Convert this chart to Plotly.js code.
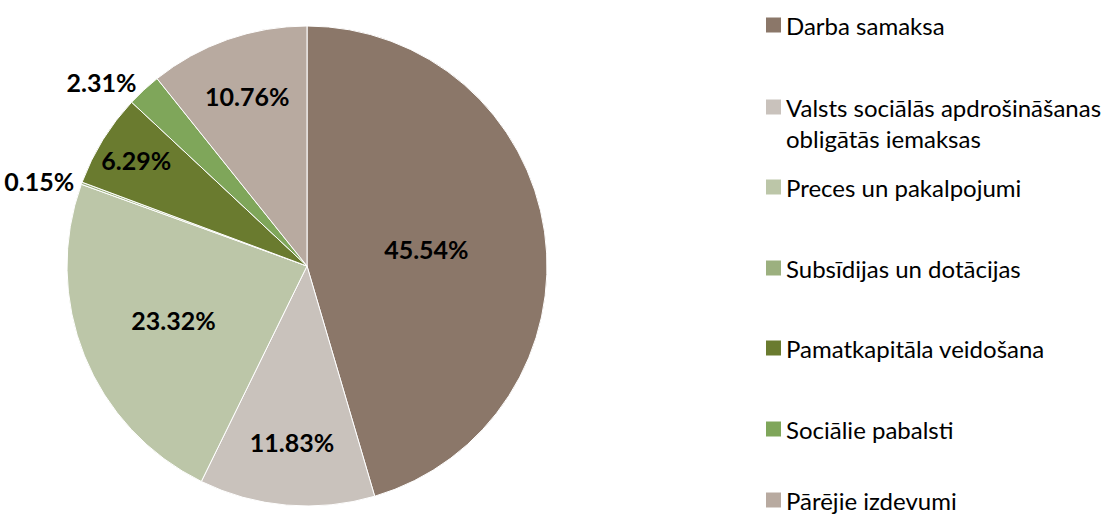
<!DOCTYPE html>
<html><head><meta charset="utf-8">
<script src="https://cdn.plot.ly/plotly-3.0.1.min.js"></script>
<style>body{margin:0;background:#fff}#c{width:1115px;height:518px}</style>
</head><body><div id="c"></div>
<script>
const labels = ["Darba samaksa","Valsts sociālās apdrošināšanas<br>obligātās iemaksas","Preces un pakalpojumi","Subsīdijas un dotācijas","Pamatkapitāla veidošana","Sociālie pabalsti","Pārējie izdevumi"];
const values = [45.54, 11.83, 23.32, 0.15, 6.29, 2.31, 10.76];
const colors = ["#8B7769","#C9C2BC","#BCC6A8","#9CB07F","#6A7B2F","#7FA65A","#B8AAA0"];
const textPos = ["inside","inside","inside","outside","inside","outside","inside"];
const legendY = [25, 107, 187, 268, 348, 429, 500];

const font = "Lato, Open Sans, sans-serif";
const trace = {
  type: "pie", labels: labels, values: values, sort: false, direction: "clockwise", rotation: 0,
  marker: {colors: colors, line: {color: "#ffffff", width: 1}},
  text: values.map(v => v.toFixed(2) + "%"), textinfo: "text", textposition: textPos,
  insidetextorientation: "horizontal",
  textfont: {family: font, size: 25, color: "#000", weight: "bold"},
  outsidetextfont: {family: font, size: 25, color: "#000", weight: "bold"},
  domain: {x: [67/1115, 547/1115], y: [12/518, 492/518]},
  hoverinfo: "label+percent", automargin: false
};
const shapes = [], annotations = [];
labels.forEach((l, i) => {
  const yc = 1 - legendY[i] / 518;
  shapes.push({type: "rect", xref: "paper", yref: "paper", x0: 766/1115, x1: 781/1115,
    y0: yc - 7.5/518, y1: yc + 7.5/518, fillcolor: colors[i], line: {width: 0}});
  l.split("<br>").forEach((line, j) => {
    annotations.push({xref: "paper", yref: "paper", x: 784/1115, y: 1 - (legendY[i] + 31*j) / 518,
      xanchor: "left", yanchor: "middle", align: "left", showarrow: false, text: line,
      font: {family: font, size: 24, color: "#000"}});
  });
});
Plotly.newPlot("c", [trace], {
  width: 1115, height: 518, margin: {l: 0, r: 0, t: 0, b: 0}, showlegend: false,
  paper_bgcolor: "#fff", shapes: shapes, annotations: annotations
}, {displayModeBar: false});
</script></body></html>
